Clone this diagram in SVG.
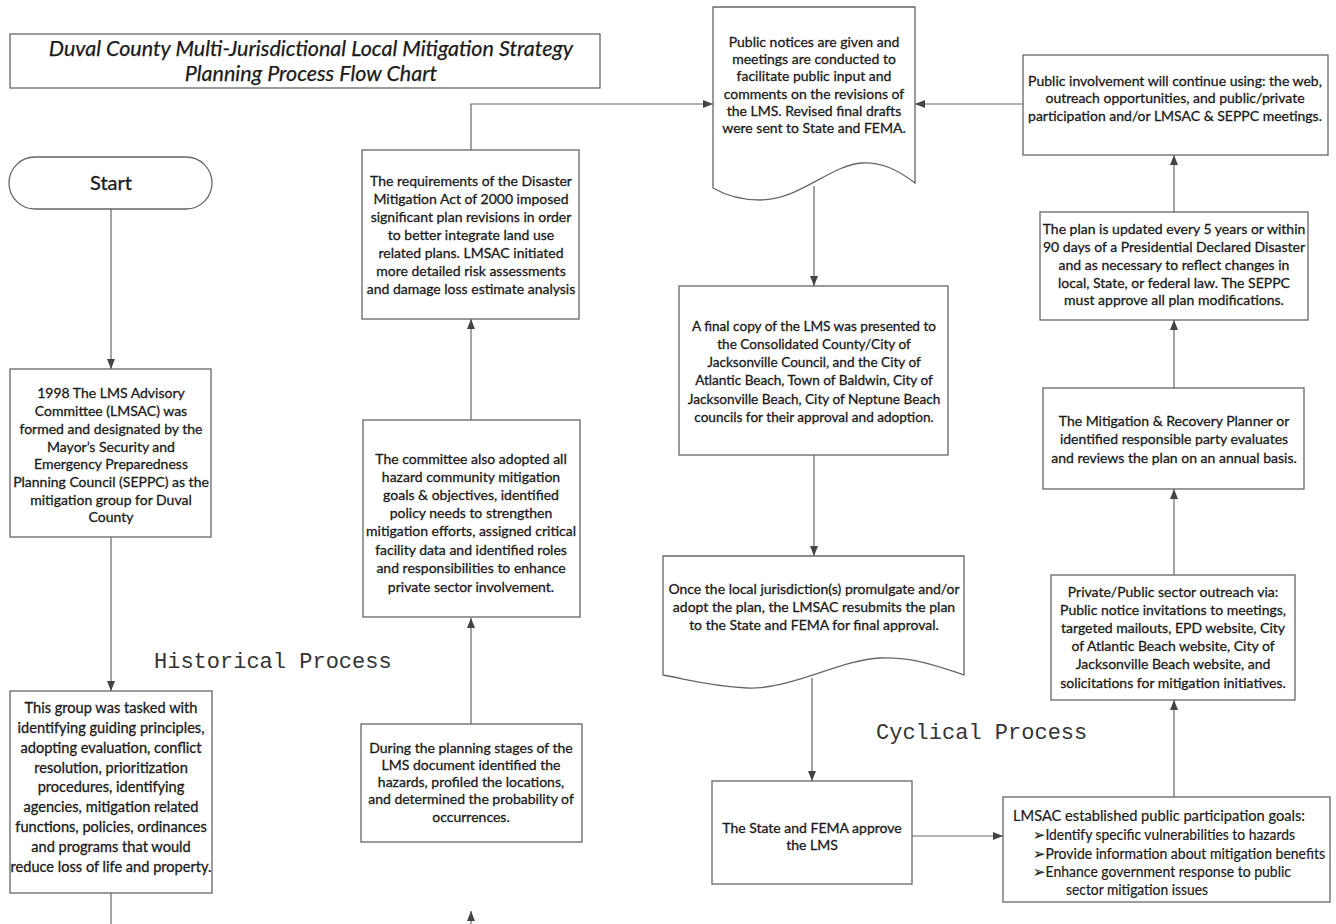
<svg xmlns="http://www.w3.org/2000/svg" width="1336" height="924" viewBox="0 0 1336 924">
<style>
.box{fill:#fff;stroke:#666;stroke-width:1.3}
.t{font-family:Lato,"Open Sans","Liberation Sans",sans-serif;font-size:14px;fill:#1a1a1a;stroke:#1a1a1a;stroke-width:0.3;text-anchor:middle}
.n{font-family:Lato,"Liberation Sans",sans-serif;font-size:14.5px;fill:#1a1a1a;stroke:#1a1a1a;stroke-width:0.2}
.mono{font-family:"Liberation Mono","DejaVu Sans Mono",monospace;font-size:22px;fill:#333}
.title{font-family:Lato,"Liberation Sans",sans-serif;font-size:21.5px;font-style:italic;fill:#1a1a1a;stroke:#1a1a1a;stroke-width:0.25;text-anchor:middle}
.c{fill:none;stroke:#666;stroke-width:1.2}
.s2{font-size:14.6px}
.s3{font-size:13.6px}
</style>
<defs>
<marker id="ah" markerUnits="userSpaceOnUse" markerWidth="10" markerHeight="10" refX="10" refY="5" orient="auto" viewBox="0 0 10 10">
<path d="M0,1 L10,5 L0,9 z" fill="#444"/>
</marker>
</defs>
<rect width="1336" height="924" fill="#fff"/>

<g id="title">
<rect class="box" x="10" y="34" width="590" height="54"/>
<text class="title" x="311" y="56">Duval County Multi-Jurisdictional Local Mitigation Strategy</text>
<text class="title" x="311" y="81">Planning Process Flow Chart</text>
</g>

<g id="labels">
<text class="mono" x="154" y="668">Historical Process</text>
<text class="mono" x="876" y="739">Cyclical Process</text>
</g>

<g id="connectors">
<line class="c" x1="111" y1="209" x2="111" y2="369" marker-end="url(#ah)"/>
<line class="c" x1="111" y1="537" x2="111" y2="691" marker-end="url(#ah)"/>
<line class="c" x1="111" y1="893" x2="111" y2="930"/>
<line class="c" x1="471" y1="930" x2="471" y2="911" marker-end="url(#ah)"/>
<line class="c" x1="471" y1="724" x2="471" y2="618" marker-end="url(#ah)"/>
<line class="c" x1="471" y1="420" x2="471" y2="319" marker-end="url(#ah)"/>
<polyline class="c" points="471,150 471,104 713,104" marker-end="url(#ah)"/>
<line class="c" x1="1023" y1="104" x2="915" y2="104" marker-end="url(#ah)"/>
<line class="c" x1="814" y1="186" x2="814" y2="286" marker-end="url(#ah)"/>
<line class="c" x1="814" y1="455" x2="814" y2="556" marker-end="url(#ah)"/>
<line class="c" x1="812" y1="678" x2="812" y2="781" marker-end="url(#ah)"/>
<line class="c" x1="912" y1="836" x2="1003" y2="836" marker-end="url(#ah)"/>
<line class="c" x1="1174" y1="797" x2="1174" y2="700" marker-end="url(#ah)"/>
<line class="c" x1="1174" y1="575" x2="1174" y2="489" marker-end="url(#ah)"/>
<line class="c" x1="1174" y1="388" x2="1174" y2="320" marker-end="url(#ah)"/>
<line class="c" x1="1174" y1="212" x2="1174" y2="155" marker-end="url(#ah)"/>
</g>

<g id="start">
<rect class="box" x="9" y="157" width="203" height="52" rx="26"/>
<text class="t" x="111" y="190" style="font-size:20px">Start</text>
</g>

<g id="formed">
<rect class="box" x="10" y="369" width="201" height="168"/>
<text class="t" x="111" y="398">1998 The LMS Advisory</text>
<text class="t" x="111" y="416">Committee (LMSAC) was</text>
<text class="t" x="111" y="434">formed and designated by the</text>
<text class="t" x="111" y="452">Mayor’s Security and</text>
<text class="t" x="111" y="469">Emergency Preparedness</text>
<text class="t" x="111" y="487">Planning Council (SEPPC) as the</text>
<text class="t" x="111" y="505">mitigation group for Duval</text>
<text class="t" x="111" y="522">County</text>
</g>

<g id="tasked">
<rect class="box" x="10" y="691" width="202" height="202"/>
<text class="t s2" x="111" y="713">This group was tasked with</text>
<text class="t s2" x="111" y="733">identifying guiding principles,</text>
<text class="t s2" x="111" y="753">adopting evaluation, conflict</text>
<text class="t s2" x="111" y="773">resolution, prioritization</text>
<text class="t s2" x="111" y="792">procedures, identifying</text>
<text class="t s2" x="111" y="812">agencies, mitigation related</text>
<text class="t s2" x="111" y="832">functions, policies, ordinances</text>
<text class="t s2" x="111" y="852">and programs that would</text>
<text class="t s2" x="111" y="872">reduce loss of life and property.</text>
</g>

<g id="hazards">
<rect class="box" x="361" y="724" width="221" height="118"/>
<text class="t" x="471" y="753">During the planning stages of the</text>
<text class="t" x="471" y="770">LMS document identified the</text>
<text class="t" x="471" y="787">hazards, profiled the locations,</text>
<text class="t" x="471" y="804">and determined the probability of</text>
<text class="t" x="471" y="822">occurrences.</text>
</g>

<g id="committee">
<rect class="box" x="363" y="420" width="217" height="197"/>
<text class="t" x="471" y="464">The committee also adopted all</text>
<text class="t" x="471" y="482">hazard community mitigation</text>
<text class="t" x="471" y="500">goals &amp; objectives, identified</text>
<text class="t" x="471" y="518">policy needs to strengthen</text>
<text class="t" x="471" y="536">mitigation efforts, assigned critical</text>
<text class="t" x="471" y="555">facility data and identified roles</text>
<text class="t" x="471" y="573">and responsibilities to enhance</text>
<text class="t" x="471" y="592">private sector involvement.</text>
</g>

<g id="requirements">
<rect class="box" x="362" y="150" width="217" height="169"/>
<text class="t" x="471" y="186">The requirements of the Disaster</text>
<text class="t" x="471" y="204">Mitigation Act of 2000 imposed</text>
<text class="t" x="471" y="222">significant plan revisions in order</text>
<text class="t" x="471" y="240">to better integrate land use</text>
<text class="t" x="471" y="258">related plans. LMSAC initiated</text>
<text class="t" x="471" y="276">more detailed risk assessments</text>
<text class="t" x="471" y="294">and damage loss estimate analysis</text>
</g>

<g id="notices">
<path class="box" d="M713,7 H915 V183 C898,170 882,162 862,163 C830,165 800,200 760,200 C740,200 725,195 713,188 Z"/>
<text class="t" x="814" y="47">Public notices are given and</text>
<text class="t" x="814" y="64">meetings are conducted to</text>
<text class="t" x="814" y="81">facilitate public input and</text>
<text class="t" x="814" y="99">comments on the revisions of</text>
<text class="t" x="814" y="116">the LMS. Revised final drafts</text>
<text class="t" x="814" y="133">were sent to State and FEMA.</text>
</g>

<g id="finalcopy">
<rect class="box" x="679" y="286" width="269" height="169"/>
<text class="t s3" x="814" y="331">A final copy of the LMS was presented to</text>
<text class="t s3" x="814" y="349">the Consolidated County/City of</text>
<text class="t s3" x="814" y="367">Jacksonville Council, and the City of</text>
<text class="t s3" x="814" y="385">Atlantic Beach, Town of Baldwin, City of</text>
<text class="t s3" x="814" y="404">Jacksonville Beach, City of Neptune Beach</text>
<text class="t s3" x="814" y="422">councils for their approval and adoption.</text>
</g>

<g id="resubmit">
<path class="box" d="M663,556 H964 V675 C940,667 915,657 880,658 C840,660 790,690 747,688 C710,686 690,680 663,675 Z"/>
<text class="t" x="814" y="594">Once the local jurisdiction(s) promulgate and/or</text>
<text class="t" x="814" y="612">adopt the plan, the LMSAC resubmits the plan</text>
<text class="t" x="814" y="630">to the State and FEMA for final approval.</text>
</g>

<g id="approve">
<rect class="box" x="712" y="781" width="200" height="103"/>
<text class="t" x="812" y="833">The State and FEMA approve</text>
<text class="t" x="812" y="850">the LMS</text>
</g>

<g id="goals">
<rect class="box" x="1003" y="797" width="327" height="105"/>
<text class="n" x="1013" y="821" textLength="292" lengthAdjust="spacingAndGlyphs">LMSAC established public participation goals:</text>
<text class="n" x="1033" y="840" textLength="262" lengthAdjust="spacingAndGlyphs">➢Identify specific vulnerabilities to hazards</text>
<text class="n" x="1033" y="859" textLength="292" lengthAdjust="spacingAndGlyphs">➢Provide information about mitigation benefits</text>
<text class="n" x="1033" y="877" textLength="258" lengthAdjust="spacingAndGlyphs">➢Enhance government response to public</text>
<text class="n" x="1066" y="895" textLength="142" lengthAdjust="spacingAndGlyphs">sector mitigation issues</text>
</g>

<g id="outreach">
<rect class="box" x="1051" y="575" width="244" height="125"/>
<text class="t" x="1173" y="597">Private/Public sector outreach via:</text>
<text class="t" x="1173" y="615">Public notice invitations to meetings,</text>
<text class="t" x="1173" y="633">targeted mailouts, EPD website, City</text>
<text class="t" x="1173" y="651">of Atlantic Beach website, City of</text>
<text class="t" x="1173" y="669">Jacksonville Beach website, and</text>
<text class="t" x="1173" y="688">solicitations for mitigation initiatives.</text>
</g>

<g id="review">
<rect class="box" x="1043" y="388" width="261" height="101"/>
<text class="t" x="1174" y="426">The Mitigation &amp; Recovery Planner or</text>
<text class="t" x="1174" y="444">identified responsible party evaluates</text>
<text class="t" x="1174" y="463">and reviews the plan on an annual basis.</text>
</g>

<g id="update">
<rect class="box" x="1040" y="212" width="268" height="108"/>
<text class="t" x="1174" y="234">The plan is updated every 5 years or within</text>
<text class="t" x="1174" y="252">90 days of a Presidential Declared Disaster</text>
<text class="t" x="1174" y="270">and as necessary to reflect changes in</text>
<text class="t" x="1174" y="288">local, State, or federal law.  The SEPPC</text>
<text class="t" x="1174" y="305">must approve all plan modifications.</text>
</g>

<g id="involvement">
<rect class="box" x="1023" y="55" width="305" height="100"/>
<text class="t" x="1175" y="86">Public involvement will continue using: the web,</text>
<text class="t" x="1175" y="103">outreach opportunities, and public/private</text>
<text class="t" x="1175" y="121">participation and/or LMSAC &amp; SEPPC meetings.</text>
</g>
</svg>
